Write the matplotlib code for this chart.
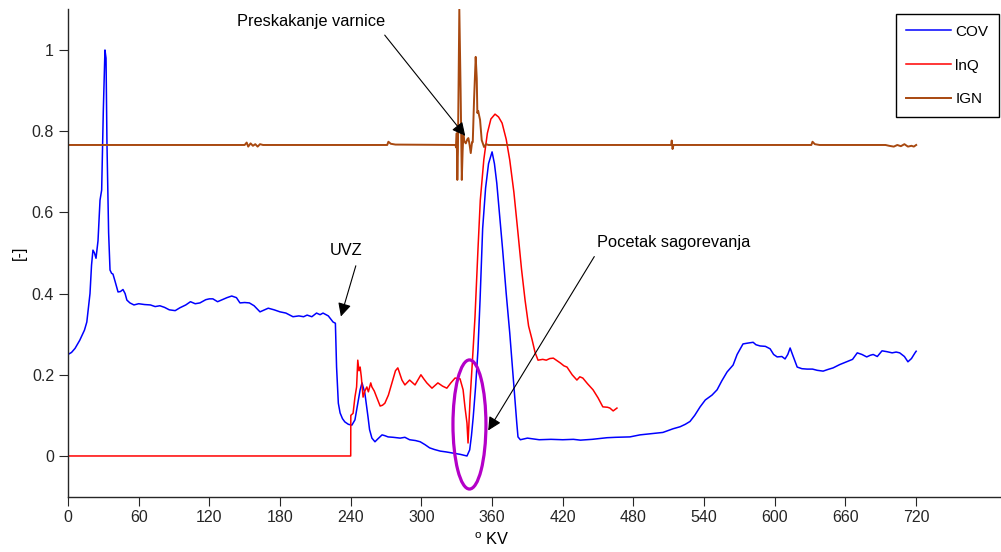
import matplotlib
matplotlib.use("Agg")
import matplotlib.pyplot as plt
from matplotlib.patches import Ellipse

plt.rcParams["font.family"] = ["Liberation Sans", "DejaVu Sans"]
plt.rcParams["mathtext.fontset"] = "custom"
plt.rcParams["mathtext.rm"] = "Liberation Sans"

# COV (plava)
cov_x = [0, 3, 6, 10, 14, 16, 18.7, 20, 21.2, 22.5, 23.8, 25.5, 27.2, 28.6, 30, 31.4, 32.3,
         33.1, 34.5, 35.7, 37, 38.2, 40, 42.5, 44.5, 46.7, 48.5, 50, 52.6, 56, 60, 65, 70,
         74, 78, 82, 86, 91, 95, 100, 104, 108, 112, 117, 120, 123, 127, 131, 135, 139, 143,
         146, 150, 154, 158, 163, 167, 170, 175, 180, 185, 191, 196, 200, 203, 207, 211, 214,
         216.5, 221, 225, 227, 228, 229.5, 231, 233, 235, 238, 241, 243.6, 246, 248, 249.6,
         252, 254.7, 256, 258, 260.6, 263, 266.6, 269, 271.7, 276, 282, 286, 290, 295, 299,
         303, 307, 311, 316, 321, 327, 333, 338.7, 341, 342.5, 344, 346, 348, 349.8, 352,
         354.5, 357, 360, 362, 364, 366.5, 369, 372, 375, 377.5, 379.5, 381, 382, 384, 387,
         390, 395, 400, 410, 420, 429, 435, 445, 457.6, 465, 477, 485.6, 495, 505, 513.6,
         519.6, 524, 528, 532, 536.6, 541, 546.7, 551, 555, 559.5, 564.6, 568, 573, 577,
         581.6, 584, 587.5, 592, 596, 599, 602, 606, 608.7, 611, 613, 615, 619, 623, 627.4,
         632, 636, 641, 645, 649.5, 655, 661, 666, 670, 674, 678, 681, 683.5, 687, 691, 695,
         699.6, 703, 706, 710, 713, 716, 719, 720]
cov_y = [0.25, 0.255, 0.265, 0.285, 0.31, 0.33, 0.40, 0.47, 0.507, 0.50, 0.487, 0.53, 0.63,
         0.655, 0.85, 1.0, 0.98, 0.77, 0.55, 0.458, 0.45, 0.448, 0.43, 0.404, 0.405, 0.41,
         0.40, 0.384, 0.377, 0.372, 0.375, 0.373, 0.372, 0.368, 0.37, 0.366, 0.36, 0.358,
         0.365, 0.372, 0.38, 0.375, 0.377, 0.385, 0.387, 0.387, 0.38, 0.385, 0.39, 0.394,
         0.39, 0.377, 0.378, 0.377, 0.37, 0.355, 0.36, 0.364, 0.36, 0.355, 0.352, 0.343,
         0.345, 0.343, 0.347, 0.343, 0.352, 0.348, 0.352, 0.345, 0.33, 0.327, 0.219, 0.13,
         0.106, 0.092, 0.084, 0.078, 0.076, 0.089, 0.13, 0.163, 0.18, 0.155, 0.096, 0.065,
         0.044, 0.035, 0.042, 0.052, 0.05, 0.047, 0.046, 0.044, 0.046, 0.04, 0.038, 0.035,
         0.028, 0.02, 0.016, 0.012, 0.01, 0.007, 0.004, 0.0, 0.015, 0.05, 0.096, 0.17, 0.26,
         0.384, 0.56, 0.66, 0.72, 0.749, 0.72, 0.672, 0.59, 0.507, 0.40, 0.303, 0.21, 0.138,
         0.08, 0.047, 0.04, 0.042, 0.044, 0.042, 0.04, 0.041, 0.04, 0.041, 0.039, 0.041,
         0.045, 0.046, 0.047, 0.052, 0.055, 0.058, 0.067, 0.072, 0.078, 0.085, 0.1, 0.121,
         0.138, 0.15, 0.163, 0.185, 0.207, 0.224, 0.25, 0.276, 0.278, 0.28, 0.274, 0.271,
         0.27, 0.264, 0.25, 0.244, 0.245, 0.239, 0.25, 0.266, 0.25, 0.219, 0.215, 0.214,
         0.214, 0.211, 0.209, 0.213, 0.217, 0.225, 0.232, 0.238, 0.254, 0.25, 0.244, 0.248,
         0.25, 0.245, 0.259, 0.257, 0.254, 0.256, 0.254, 0.245, 0.232, 0.24, 0.254, 0.258]

# lnQ (crvena)
lnq_x = [0, 240, 240.1, 242, 243.6, 245, 246, 247, 248, 249, 250.5, 252, 253.7, 255, 257,
         258, 260, 262, 265, 267, 269, 272, 275, 278, 280, 283.5, 286, 290, 294.6, 299.6,
         302, 304.6, 309, 314, 318, 321.6, 325, 328.6, 332.8, 335.4, 337, 338.7, 339.6,
         341.3, 343, 345.5, 348, 350, 353, 356, 359, 362.5, 365.5, 368.5, 372, 375, 378.5,
         382, 385, 388, 391, 394, 396.5, 399, 403, 406, 409, 412, 415, 418, 421, 423.6, 428,
         432, 434.5, 437, 441, 445.7, 450, 454, 458, 460, 462.8, 466]
lnq_y = [0, 0, 0.1, 0.105, 0.145, 0.17, 0.236, 0.21, 0.219, 0.195, 0.145, 0.16, 0.17, 0.158,
         0.18, 0.17, 0.16, 0.145, 0.123, 0.125, 0.13, 0.15, 0.18, 0.21, 0.217, 0.187, 0.175,
         0.187, 0.175, 0.2, 0.19, 0.18, 0.167, 0.18, 0.172, 0.167, 0.18, 0.192, 0.19, 0.163,
         0.12, 0.081, 0.032, 0.138, 0.219, 0.342, 0.507, 0.63, 0.73, 0.795, 0.83, 0.842,
         0.835, 0.82, 0.78, 0.729, 0.65, 0.549, 0.46, 0.384, 0.32, 0.286, 0.255, 0.236,
         0.238, 0.236, 0.24, 0.241, 0.235, 0.229, 0.222, 0.219, 0.2, 0.187, 0.195, 0.192,
         0.178, 0.163, 0.143, 0.121, 0.12, 0.118, 0.111, 0.118]

# IGN (braon)
ign_x = [0, 150, 151.7, 153, 155, 157, 159, 161, 163, 165.6, 271, 272, 274, 278, 329,
         329.4, 330, 330.5, 331, 332.2, 333.3, 334.3, 335, 335.6, 336.5, 337.7, 339, 339.9,
         341, 341.9, 343, 343.6, 344.7, 346.1, 347, 347.5, 348.2, 348.9, 349.8, 351.2,
         353.2, 354.9, 357, 512, 512.5, 513.2, 514, 631, 632, 634, 638, 694, 697, 701, 704,
         707, 710, 713, 716, 718, 720]
ign_y = [0.766, 0.766, 0.772, 0.762, 0.77, 0.764, 0.768, 0.762, 0.768, 0.766, 0.766, 0.774,
         0.769, 0.767, 0.766, 0.76, 0.795, 0.68, 0.75, 1.1, 0.9, 0.68, 0.75, 0.79, 0.775,
         0.77, 0.78, 0.783, 0.765, 0.746, 0.773, 0.773, 0.877, 0.983, 0.93, 0.845, 0.85,
         0.84, 0.828, 0.778, 0.761, 0.768, 0.766, 0.766, 0.777, 0.756, 0.766, 0.766, 0.774,
         0.768, 0.766, 0.766, 0.764, 0.762, 0.766, 0.763, 0.768, 0.762, 0.764, 0.762, 0.766]

x_ticks = [0, 60, 120, 180, 240, 300, 360, 420, 480, 540, 600, 660, 720]
y_ticks = [0, 0.2, 0.4, 0.6, 0.8, 1]
y_labels = ["0", "0.2", "0.4", "0.6", "0.8", "1"]

fig = plt.figure(figsize=(10.01, 5.52), dpi=100)
ax = fig.add_axes([0.0679, 0.1004, 0.9321, 0.8826])

ax.plot(cov_x, cov_y, color="#0000FF", lw=1.1, label="COV")
ax.plot(lnq_x, lnq_y, color="#FF0000", lw=1.1, label="lnQ")
ax.plot(ign_x, ign_y, color="#A8480F", lw=1.4, label="IGN")

# elipsa oko pocetka sagorevanja
ax.add_patch(Ellipse((340.8, 0.0776), 28, 0.318, fill=False,
                     edgecolor="#B400C8", lw=2.3, zorder=4))

arrow = dict(arrowstyle="-|>", color="k", lw=0.8, mutation_scale=20)
ax.annotate("", xy=(338.7, 0.783), xytext=(267.4, 1.042), arrowprops=arrow)
ax.annotate("", xy=(231, 0.337), xytext=(245, 0.475), arrowprops=arrow)
ax.annotate("", xy=(355.5, 0.057), xytext=(448, 0.497), arrowprops=arrow)
ax.text(143.5, 1.071, "Preskakanje varnice", fontsize=11.8, va="center", ha="left")
ax.text(222.4, 0.507, "UVZ", fontsize=11.8, va="center", ha="left")
ax.text(449, 0.525, "Pocetak sagorevanja", fontsize=11.8, va="center", ha="left")

ax.set_xlim(0, 792)
ax.set_ylim(-0.1, 1.1)
ax.set_xticks(x_ticks)
ax.set_yticks(y_ticks)
ax.set_yticklabels(y_labels)
ax.tick_params(direction="out", length=6.5, width=0.8, labelsize=11.5, colors="#262626")
ax.spines["top"].set_visible(False)
ax.spines["right"].set_visible(False)
for s in ["left", "bottom"]:
    ax.spines[s].set_linewidth(1.0)
    ax.spines[s].set_color("#262626")

ax.text(0.4545, -0.089, r"$^{\mathrm{o}}$ KV", transform=ax.transAxes,
        ha="center", va="center", fontsize=11.8)
ax.text(-0.052, 0.5, "[-]", transform=ax.transAxes, rotation=90,
        ha="center", va="center", fontsize=11.5)

leg = ax.legend(loc="upper right", bbox_to_anchor=(0.998, 0.9746),
                bbox_transform=fig.transFigure, borderaxespad=0, fontsize=11,
                handlelength=2.9, handletextpad=0.3, labelspacing=1.3,
                borderpad=0.7, fancybox=False, framealpha=1, edgecolor="k")
leg.get_frame().set_linewidth(1.0)

fig.savefig("out.png", dpi=100)
